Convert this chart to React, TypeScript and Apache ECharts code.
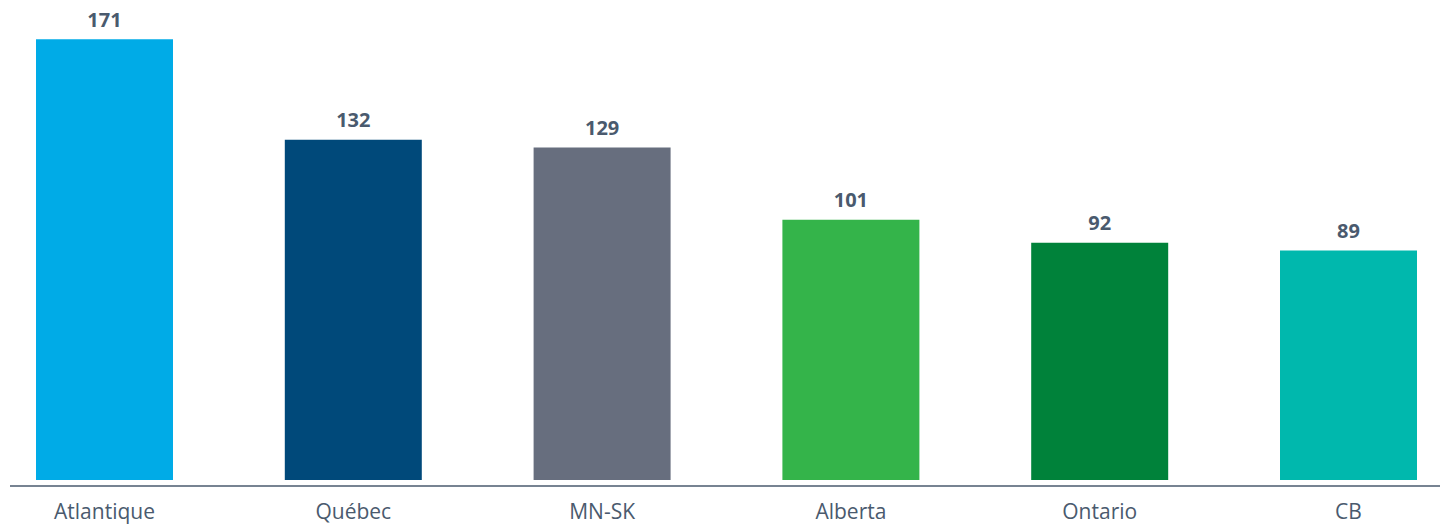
import React, { useEffect, useRef } from "react";
import * as echarts from "echarts";

const categories = ["Atlantique", "Québec", "MN-SK", "Alberta", "Ontario", "CB"];
const values = [171, 132, 129, 101, 92, 89];
const barColors = ["#00ABE7", "#00497A", "#676E7E", "#34B44A", "#00823A", "#00B8AD"];

export default function App() {
  const ref = useRef<HTMLDivElement>(null);
  useEffect(() => {
    if (!ref.current) return;
    const chart = echarts.init(ref.current, null, { renderer: "svg" });
    chart.setOption({
      animation: false,
      grid: { left: 104.5, width: 1244, top: 16, bottom: 49, containLabel: false },
      xAxis: {
        type: "category",
        data: categories,
        boundaryGap: false,
        axisLine: { show: false },
        axisTick: { show: false },
        axisLabel: {
          color: "#4A5A6E",
          fontFamily: "Open Sans",
          fontSize: 21,
          margin: 20,
        },
      },
      yAxis: {
        type: "value",
        min: 0,
        max: 180,
        show: false,
        splitLine: { show: false },
      },
      series: [
        {
          type: "bar",
          data: values.map((v, i) => ({ value: v, itemStyle: { color: barColors[i] } })),
          barWidth: 137,
          label: {
            show: true,
            position: "top",
            distance: 10,
            color: "#4A5A6E",
            fontFamily: "Open Sans",
            fontWeight: "bold",
            fontSize: 20,
          },
        },
      ],
      graphic: [
        {
          type: "line",
          shape: { x1: 10, y1: 486, x2: 1440, y2: 486 },
          style: { stroke: "#4A5A6E", lineWidth: 1.5 },
        },
      ],
    });
    return () => chart.dispose();
  }, []);
  return (
    <div
      ref={ref}
      style={{ position: "absolute", left: 0, top: 0, width: 1447, height: 529 }}
    />
  );
}
